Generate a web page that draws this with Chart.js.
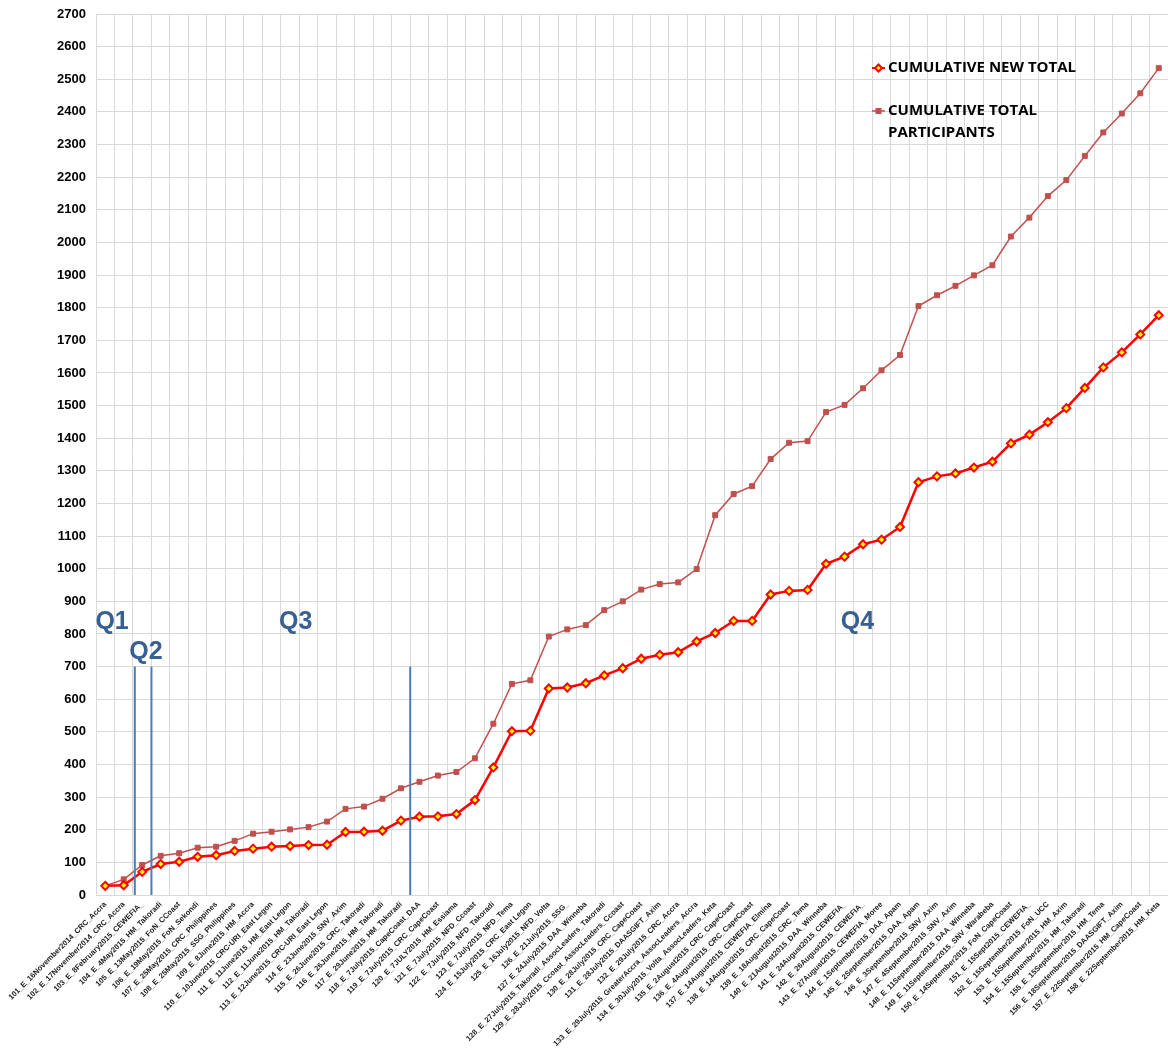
<!DOCTYPE html>
<html>
<head>
<meta charset="utf-8">
<script src="https://cdn.jsdelivr.net/npm/chart.js@4.4.0/dist/chart.umd.min.js"></script>
<style>
  body { margin: 0; background: #fff; }
  #wrap { width: 1168px; height: 1050px; }
</style>
</head>
<body>
<div id="wrap"><canvas id="cumChart" width="1168" height="1050"></canvas></div>
<script>
const categories = [
  '101_E_16November2014_CRC_Accra', '102_E_17November2014_CRC_Accra', '103_E_8February2015_CEWEFIA_',
  '104_E_4May2015_HM_Takoradi', '105_E_13May2015_FoN_CCoast', '106_E_19May2015_FoN_Sekondi',
  '107_E_25May2015_CRC_Philippines', '108_E_25May2015_SSG_Philippines', '109_E_8June2015_HM_Accra',
  '110_E_10June2015_CRC-URI_East Legon', '111_E_11June2015_HM_East Legon', '112_E_11June2015_HM_Takoradi',
  '113_E_12June2015_CRC-URI_East Legon', '114_E_23June2015_SNV_Axim', '115_E_26June2015_CRC_Takoradi',
  '116_E_26June2015_HM_Takoradi', '117_E_29June2015_HM_Takoradi', '118_E_7July2015_CapeCoast_DAA',
  '119_E_7July2015_CRC_CapeCoast', '120_E_7JULY2015_HM_Essiama', '121_E_7July2015_NFD_Ccoast',
  '122_E_7July2015_NFD_Takoradi', '123_E_7July2015_NFD_Tema', '124_E_15July2015_CRC_East Legon',
  '125_E_16July2015_NFD_Volta', '126_E_21July2015_SSG_', '127_E_24July2015_DAA_Winneba',
  '128_E_27July2015_Takoradi_AssocLeaders_Takoradi', '129_E_28July2015_Ccoast_AssocLeaders_Ccoast',
  '130_E_28July2015_CRC_CapeCoast', '131_E_28July2015_DAASGIFT_Axim', '132_E_29July2015_CRC_Accra',
  '133_E_29July2015_GreaterAccra_AssocLeaders_Accra', '134_E_30July2015_Volta_AssocLeaders_Keta',
  '135_E_2August2015_CRC_CapeCoast', '136_E_4August2015_CRC_CapeCoast', '137_E_14August2015_CEWEFIA_Elmina',
  '138_E_14August2015_CRC_CapeCoast', '139_E_18August2015_CRC_Tema', '140_E_21August2015_DAA_Winneba',
  '141_E_24August2015_CEWEFIA_', '142_E_26August2015_CEWEFIA_', '143_E_27August2015_CEWEFIA_Moree',
  '144_E_1September2015_DAA_Apam', '145_E_2September2015_DAA_Apam', '146_E_3September2015_SNV_Axim',
  '147_E_4September2015_SNV_Axim', '148_E_11September2015_DAA_Winneba', '149_E_11September2015_SNV_Warabeba',
  '150_E_14September2015_FoN_CapeCoast', '151_E_15Sept2015_CEWEFIA_', '152_E_15September2015_FoN_UCC',
  '153_E_15September2015_HM_Axim', '154_E_15September2015_HM_Takoradi', '155_E_15September2015_HM_Tema',
  '156_E_18September2015_DAASGIFT_Axim', '157_E_22September2015_HM_CapeCoast', '158_E_22September2015_HM_Keta'
];

const cumulativeNewTotal = [
  28, 30, 71, 95, 102, 117, 122, 135, 142, 148,
  150, 153, 154, 193, 194, 197, 228, 240, 241, 248,
  291, 391, 502, 503, 633, 636, 649, 673, 695, 724,
  736, 744, 777, 803, 840, 840, 921, 932, 935, 1015,
  1037, 1075, 1089, 1128, 1265, 1283, 1292, 1310, 1328, 1384,
  1411, 1449, 1492, 1554, 1617, 1663, 1718, 1777
];

const cumulativeTotalParticipants = [
  28, 48, 92, 120, 128, 145, 148, 166, 188, 194,
  201, 208, 225, 264, 271, 295, 327, 347, 366, 377,
  419, 525, 647, 658, 792, 814, 827, 873, 900, 936,
  953, 958, 999, 1164, 1229, 1253, 1336, 1386, 1391, 1480,
  1502, 1553, 1608, 1655, 1805, 1838, 1867, 1899, 1930, 2018,
  2076, 2142, 2191, 2265, 2337, 2395, 2457, 2534
];

const seriesNames = ['CUMULATIVE NEW TOTAL', 'CUMULATIVE TOTAL PARTICIPANTS'];

// quarter annotations: label, category index, value
const quarterLabels = ['Q1', 'Q2', 'Q3', 'Q4'];
const quarterIndex = [0.37, 2.2, 10.3, 40.7];
const quarterValue = [837, 745, 837, 837];
// quarter divider lines (category index) drawn from 0 up to dividerTop
const dividerIndex = [1.6, 2.5, 16.5];
const dividerTop = 700;

const annotations = {
  id: 'annotations',
  afterDatasetsDraw(chart) {
    const ctx = chart.ctx;
    const x = chart.scales.x, y = chart.scales.y;
    ctx.save();
    ctx.strokeStyle = '#4A7EBB';
    ctx.lineWidth = 2;
    dividerIndex.forEach(i => {
      const px = x.getPixelForValue(i);
      ctx.beginPath();
      ctx.moveTo(px, y.getPixelForValue(0));
      ctx.lineTo(px, y.getPixelForValue(dividerTop));
      ctx.stroke();
    });
    ctx.fillStyle = '#375F92';
    ctx.font = 'bold 25px "Liberation Sans", Arial, sans-serif';
    ctx.textAlign = 'center';
    ctx.textBaseline = 'middle';
    quarterLabels.forEach((q, k) => {
      ctx.fillText(q, x.getPixelForValue(quarterIndex[k]), y.getPixelForValue(quarterValue[k]));
    });

    // legend inside the plot
    const lx = 872, tx = 888;
    ctx.font = 'bold 15px "Open Sans", Lato, sans-serif';
    ctx.textAlign = 'left';
    ctx.fillStyle = '#000';
    // new total
    ctx.strokeStyle = '#FF0000';
    ctx.lineWidth = 2;
    ctx.beginPath(); ctx.moveTo(lx, 68); ctx.lineTo(lx + 13, 68); ctx.stroke();
    ctx.save();
    ctx.translate(lx + 6.5, 68); ctx.rotate(Math.PI / 4);
    ctx.fillStyle = '#FFFF00'; ctx.fillRect(-2.5, -2.5, 5, 5);
    ctx.strokeRect(-2.5, -2.5, 5, 5);
    ctx.restore();
    ctx.fillText(seriesNames[0], tx, 68);
    // total participants
    ctx.strokeStyle = '#C0504D';
    ctx.lineWidth = 1.5;
    ctx.beginPath(); ctx.moveTo(lx, 111); ctx.lineTo(lx + 13, 111); ctx.stroke();
    ctx.fillStyle = '#C0504D';
    ctx.fillRect(lx + 3.5, 108, 6, 6);
    ctx.fillStyle = '#000';
    ctx.fillText('CUMULATIVE TOTAL', tx, 111);
    ctx.fillText('PARTICIPANTS', tx, 133);
    ctx.restore();
  }
};

document.addEventListener('DOMContentLoaded', () => {
    const cumCtx = document.getElementById('cumChart').getContext('2d');
    new Chart(cumCtx, {
        type: 'line',
        data: {
            labels: categories,
            datasets: [{
                label: seriesNames[0],
                data: cumulativeNewTotal,
                borderColor: '#FF0000',
                borderWidth: 2.5,
                pointStyle: 'rectRot',
                pointRadius: 4,
                pointBackgroundColor: '#FFFF00',
                pointBorderColor: '#FF0000',
                pointBorderWidth: 2,
                tension: 0,
                order: 1
            }, {
                label: seriesNames[1],
                data: cumulativeTotalParticipants,
                borderColor: '#C0504D',
                borderWidth: 1.5,
                pointStyle: 'rect',
                pointRadius: 3.5,
                pointBackgroundColor: '#C0504D',
                pointBorderColor: '#C0504D',
                pointBorderWidth: 1,
                tension: 0,
                order: 2
            }]
        },
        options: {
            responsive: false,
            animation: false,
            layout: { autoPadding: false, padding: { top: 14, right: 0, left: 0, bottom: 0 } },
            plugins: {
                legend: { display: false },
                tooltip: { enabled: false }
            },
            scales: {
                x: {
                    offset: true,
                    grid: { color: '#D9D9D9', offset: true, drawTicks: false },
                    border: { color: '#D9D9D9' },
                    ticks: {
                        autoSkip: false,
                        maxRotation: 45,
                        minRotation: 45,
                        padding: 5,
                        color: '#222',
                        font: { family: '"Liberation Sans", Arial, sans-serif', size: 7.6, weight: 'bold' }
                    },
                    afterFit(scale) {
                        scale.height = 155;
                        scale.paddingRight = 0;
                        scale.paddingLeft = 0;
                    }
                },
                y: {
                    min: 0,
                    max: 2700,
                    grid: { color: '#D9D9D9', drawTicks: false },
                    border: { color: '#D9D9D9' },
                    ticks: {
                        stepSize: 100,
                        padding: 10,
                        color: '#000',
                        callback: v => String(v),
                        font: { family: '"Liberation Sans", Arial, sans-serif', size: 13, weight: 'bold' }
                    },
                    afterFit(scale) {
                        scale.width = 96;
                        scale.paddingTop = 0;
                        scale.paddingBottom = 0;
                    }
                }
            }
        },
        plugins: [annotations]
    });
});
</script>
</body>
</html>
